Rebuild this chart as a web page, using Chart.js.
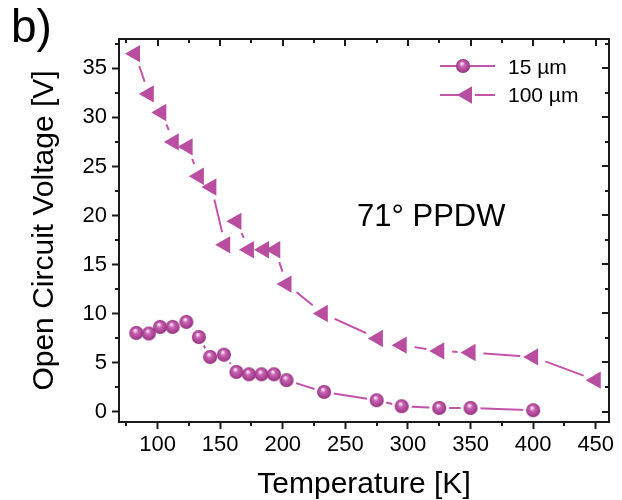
<!DOCTYPE html>
<html>
<head>
<meta charset="utf-8">
<script src="https://cdn.jsdelivr.net/npm/chart.js@4.4.1/dist/chart.umd.min.js"></script>
<style>
html,body{margin:0;padding:0;background:#fff;}
#wrap{width:622px;height:500px;position:relative;}
canvas{display:block;}
</style>
</head>
<body>
<div id="wrap"><canvas id="c" width="622" height="500"></canvas></div>
<script>
// ---------- DATA ----------
const seriesNames = ['15 \u00B5m', '100 \u00B5m'];
const temps15 = [83, 93, 102, 112, 123, 133, 142, 153, 163, 173, 183, 193, 203, 233, 275, 295, 325, 350, 400];
const voc15   = [8.02, 7.96, 8.63, 8.63, 9.14, 7.6, 5.57, 5.8, 4.04, 3.8, 3.8, 3.8, 3.2, 2.0, 1.15, 0.54, 0.37, 0.37, 0.13];
const temps100 = [82, 93, 103, 113, 124, 133, 143, 154, 163, 173, 185, 194, 203, 232, 276, 295, 325, 350, 400, 450];
const voc100   = [36.5, 32.4, 30.5, 27.5, 27.0, 24.0, 22.9, 17.0, 19.4, 16.5, 16.5, 16.5, 13.0, 10.0, 7.45, 6.77, 6.18, 6.02, 5.57, 3.2];
const xTickLabels = [100, 150, 200, 250, 300, 350, 400, 450];
const yTickLabels = [0, 5, 10, 15, 20, 25, 30, 35];
const annotationText = '71\u00B0 PPDW';
const panelLabel = 'b)';

// ---------- STYLE ----------
const FONT = "'Liberation Sans', Arial, sans-serif";
const AXIS = '#1a1a1a';
const MARK = '#b94ea1';
const LINE = '#c354ab';
Chart.defaults.font.family = FONT;
Chart.defaults.color = '#000';

function makeSphere(r) {
  const s = Math.ceil(r * 2 + 2);
  const c = document.createElement('canvas');
  c.width = s; c.height = s;
  const g = c.getContext('2d');
  const cx = s / 2, cy = s / 2;
  const grad = g.createRadialGradient(cx - r * 0.2, cy - r * 0.4, 0, cx, cy, r);
  grad.addColorStop(0, '#ffffff');
  grad.addColorStop(0.12, '#f6d8ef');
  grad.addColorStop(0.38, '#c862b2');
  grad.addColorStop(0.8, '#aa4292');
  grad.addColorStop(1, '#8a2c78');
  g.fillStyle = grad;
  g.beginPath(); g.arc(cx, cy, r, 0, Math.PI * 2); g.fill();
  return c;
}
const sphere = makeSphere(7);

const pts = (xs, ys) => xs.map((v, i) => ({x: v, y: ys[i]}));
const d15 = pts(temps15, voc15);
const d100 = pts(temps100, voc100);

const decor = {
  id: 'decor',
  afterDatasetsDraw(chart) {
    const {ctx, chartArea: a, scales: {x, y}} = chart;
    ctx.save();
    ctx.strokeStyle = AXIS;
    ctx.lineWidth = 2;
    ctx.beginPath();
    ctx.moveTo(a.left - 1, a.top);
    ctx.lineTo(a.right, a.top);
    ctx.lineTo(a.right, a.bottom + 1);
    ctx.stroke();
    ctx.beginPath();
    ctx.moveTo(a.left, a.top - 1); ctx.lineTo(a.left, a.bottom + 1);
    ctx.moveTo(a.left - 1, a.bottom); ctx.lineTo(a.right + 1, a.bottom);
    ctx.stroke();
    // major ticks on top / right (inward)
    ctx.beginPath();
    xTickLabels.forEach(v => { const px = Math.round(x.getPixelForValue(v)); ctx.moveTo(px, a.top); ctx.lineTo(px, a.top + 7); });
    yTickLabels.forEach(v => { const py = Math.round(y.getPixelForValue(v)); ctx.moveTo(a.right, py); ctx.lineTo(a.right - 7, py); });
    // minor ticks
    const xs = xTickLabels, ys = yTickLabels;
    const xStep = xs[1] - xs[0], yStep = ys[1] - ys[0];
    for (let v = xs[0] - xStep / 2; v <= x.max; v += xStep) {
      if (v < x.min) continue;
      const px = Math.round(x.getPixelForValue(v));
      ctx.moveTo(px, a.bottom); ctx.lineTo(px, a.bottom + 4);
      ctx.moveTo(px, a.top); ctx.lineTo(px, a.top + 4);
    }
    for (let v = ys[0] + yStep / 2; v <= y.max; v += yStep) {
      const py = Math.round(y.getPixelForValue(v));
      ctx.moveTo(a.left, py); ctx.lineTo(a.left - 4, py);
      ctx.moveTo(a.right, py); ctx.lineTo(a.right - 4, py);
    }
    ctx.stroke();
    ctx.restore();
  },
  afterDraw(chart) {
    const ctx = chart.ctx;
    ctx.save();
    // legend
    const rows = [66, 95];
    ctx.strokeStyle = LINE; ctx.lineWidth = 2;
    rows.forEach(ry => { ctx.beginPath(); ctx.moveTo(440, ry); ctx.lineTo(495, ry); ctx.stroke(); });
    ctx.drawImage(sphere, 463 - sphere.width / 2, rows[0] - sphere.height / 2);
    const r = 10, cx = 467, cy = rows[1];
    ctx.fillStyle = '#fff';
    ctx.fillRect(cx + r / 2, cy - 2, 3, 4);
    ctx.fillStyle = MARK;
    ctx.beginPath();
    ctx.moveTo(cx - r, cy);
    ctx.lineTo(cx + r / 2, cy - r * 0.866);
    ctx.lineTo(cx + r / 2, cy + r * 0.866);
    ctx.closePath(); ctx.fill();
    ctx.fillStyle = '#000';
    ctx.font = '21px ' + FONT;
    ctx.textBaseline = 'middle';
    ctx.textAlign = 'left';
    ctx.fillText(seriesNames[0], 508, rows[0] + 2);
    ctx.fillText(seriesNames[1], 508, rows[1] + 1);
    // annotation
    ctx.textBaseline = 'alphabetic';
    ctx.font = '31px ' + FONT;
    ctx.fillText(annotationText, 357, 226);
    ctx.font = '46px ' + FONT;
    ctx.fillText(panelLabel, 11, 42);
    ctx.restore();
  }
};

new Chart(document.getElementById('c'), {
  type: 'scatter',
  data: {
    datasets: [
      { label: seriesNames[0] + ' line', data: d15, showLine: true, pointRadius: 0, borderColor: LINE, borderWidth: 2, order: 3 },
      { label: seriesNames[1] + ' line', data: d100, showLine: true, pointRadius: 0, borderColor: LINE, borderWidth: 2, order: 3 },
      { label: seriesNames[0] + ' gap', data: d15, showLine: false, pointStyle: 'circle', pointRadius: 10, pointBackgroundColor: '#fff', pointBorderWidth: 0, order: 2 },
      { label: seriesNames[1] + ' gap', data: d100, showLine: false, pointStyle: 'circle', pointRadius: 13, pointBackgroundColor: '#fff', pointBorderWidth: 0, order: 2 },
      { label: seriesNames[0], data: d15, showLine: false, pointStyle: sphere, pointRadius: 7, order: 1 },
      { label: seriesNames[1], data: d100, showLine: false, pointStyle: 'triangle', rotation: 270, pointRadius: 10, pointBackgroundColor: MARK, pointBorderColor: MARK, pointBorderWidth: 0, order: 1 }
    ]
  },
  options: {
    responsive: false,
    animation: false,
    devicePixelRatio: 1,
    layout: { padding: { top: 39, right: 11, left: 0, bottom: 0 } },
    plugins: { legend: { display: false }, tooltip: { enabled: false } },
    scales: {
      x: {
        type: 'linear', min: 69.2, max: 460.6,
        ticks: { stepSize: 50, includeBounds: false, font: { size: 22 }, color: '#000', padding: 3, maxRotation: 0, autoSkip: false },
        grid: { drawOnChartArea: false, drawTicks: true, tickLength: 7, tickWidth: 2, tickColor: AXIS },
        border: { display: true, color: AXIS, width: 2 },
        title: { display: true, text: 'Temperature [K]', font: { size: 30, lineHeight: 1 }, color: '#000', padding: { top: 0, bottom: 0 } },
        afterFit(s) { s.height = 78; s.paddingLeft = 0; s.paddingRight = 0; }
      },
      y: {
        type: 'linear', min: -1.07, max: 38.0,
        ticks: { stepSize: 5, includeBounds: false, font: { size: 22 }, color: '#000', padding: 5 },
        grid: { drawOnChartArea: false, drawTicks: true, tickLength: 7, tickWidth: 2, tickColor: AXIS },
        border: { display: true, color: AXIS, width: 2 },
        title: { display: true, text: 'Open Circuit Voltage [V]', font: { size: 30, lineHeight: 1 }, color: '#000', padding: { top: 30, bottom: 0 } },
        afterFit(s) { s.width = 119; s.paddingTop = 0; s.paddingBottom = 0; }
      }
    }
  },
  plugins: [decor]
});
</script>
</body>
</html>
